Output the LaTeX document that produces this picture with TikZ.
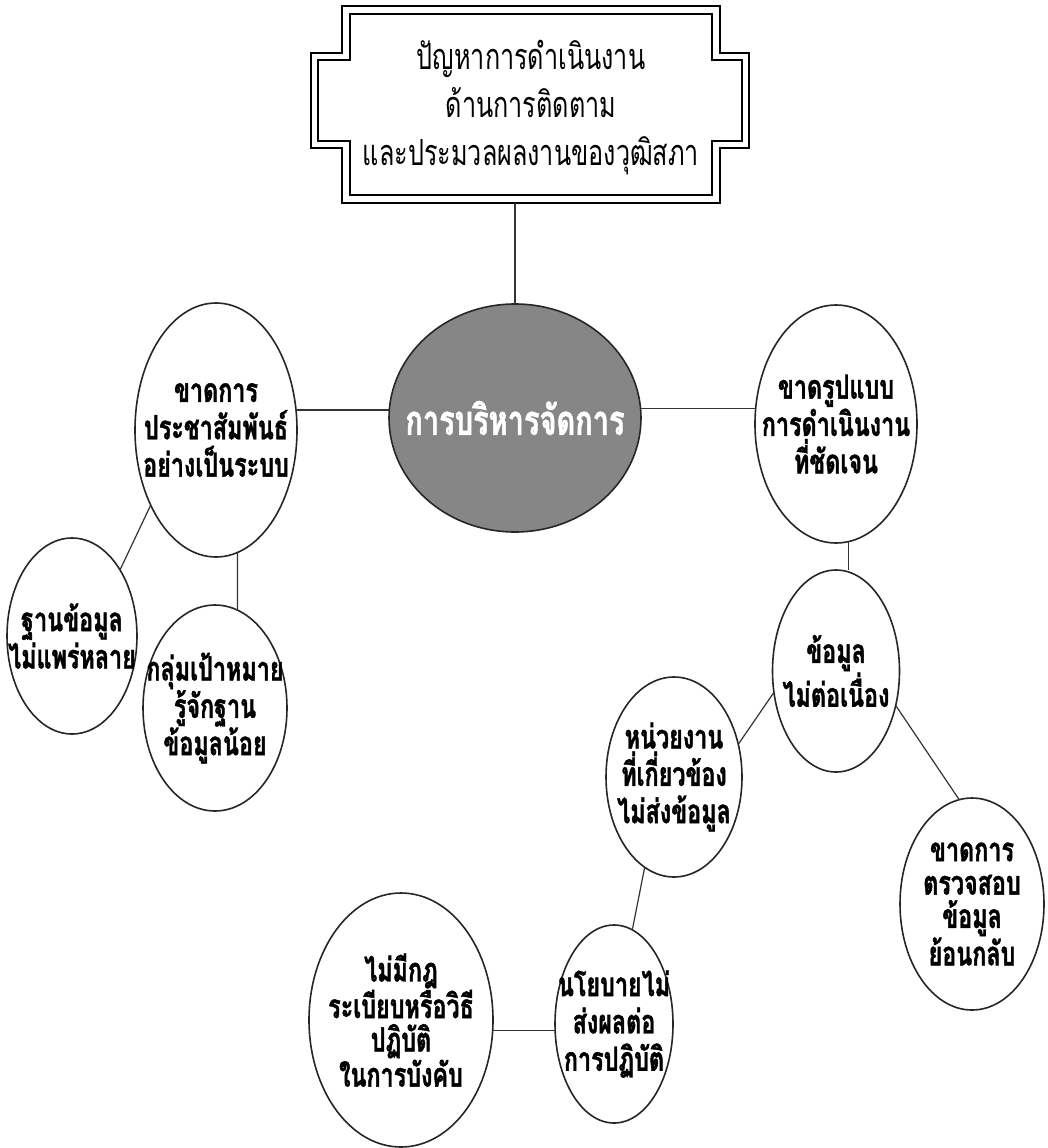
\documentclass[tikz,border=0pt]{standalone}
\usepackage{fontspec}
\usetikzlibrary{shapes.geometric}
\newfontfamily\thaifont[Script=Thai,FakeStretch=0.7,BoldFeatures={FakeBold=1.2}]{Loma}
\definecolor{hubgray}{RGB}{134,134,134}
\tikzset{
  bub/.style n args={2}{ellipse, draw=black!85, line width=1.2pt, fill=white,
    minimum width=#1*0.75pt, minimum height=#2*0.75pt, inner sep=0pt, outer sep=0pt},
  lab/.style={inner sep=0pt, align=center, text=black,
    font=\thaifont\bfseries\fontsize{25}{28}\selectfont},
  lab4/.style={lab, font=\thaifont\bfseries\fontsize{25}{25}\selectfont},
  conn/.style={draw=black!80, line width=0.9pt},
}
\begin{document}
\begin{tikzpicture}[x=0.75pt,y=-0.75pt]
\useasboundingbox (0,0) rectangle (1047,1148);
% title box
\draw[line width=2.2pt] (342,6) -- (720,6) -- (720,53) -- (749,53) -- (749,148) -- (720,148) -- (720,203) -- (342,203) -- (342,148) -- (311,148) -- (311,53) -- (342,53) -- cycle;
\draw[line width=1.2pt] (350,14) -- (712,14) -- (712,60) -- (742,60) -- (742,141) -- (712,141) -- (712,195) -- (350,195) -- (350,141) -- (318,141) -- (318,60) -- (350,60) -- cycle;
\node[minimum width=378*0.75pt, minimum height=190*0.75pt, inner sep=0pt, align=center,
  font=\thaifont\fontsize{27}{36}\selectfont] (title) at (531,108)
  {ปัญหาการดำเนินงาน\\ด้านการติดตาม\\และประมวลผลงานของวุฒิสภา};
% hub
\node[bub={252}{228}, fill=hubgray, label={[lab, text=white, font=\thaifont\bfseries\fontsize{31}{34}\selectfont]center:การบริหารจัดการ}] (cen) at (515,418) {};
% bubbles
\node[bub={162}{254}, label={[lab]center:{ขาดการ\\ประชาสัมพันธ์\\อย่างเป็นระบบ}}] (L) at (216,430) {};
\node[bub={162}{238}, label={[lab]center:{ขาดรูปแบบ\\การดำเนินงาน\\ที่ชัดเจน}}] (R) at (836,424) {};
\node[bub={127}{202}, label={[lab]center:{ข้อมูล\\ไม่ต่อเนื่อง}}] (D) at (836,671) {};
\node[bub={136}{200}, label={[lab]center:{หน่วยงาน\\ที่เกี่ยวข้อง\\ไม่ส่งข้อมูล}}] (H) at (674,777) {};
\node[bub={144}{212}, label={[lab4]center:{ขาดการ\\ตรวจสอบ\\ข้อมูล\\ย้อนกลับ}}] (K) at (972,904) {};
\node[bub={118}{198}, label={[lab]center:{นโยบายไม่\\ส่งผลต่อ\\การปฏิบัติ}}] (N) at (614,1024) {};
\node[bub={184}{254}, label={[lab4]center:{ไม่มีกฎ\\ระเบียบหรือวิธี\\ปฏิบัติ\\ในการบังคับ}}] (M) at (401,1020) {};
\node[bub={130}{196}, label={[lab]center:{ฐานข้อมูล\\ไม่แพร่หลาย}}] (F) at (72,636) {};
\node[bub={144}{206}, label={[lab]center:{กลุ่มเป้าหมาย\\รู้จักฐาน\\ข้อมูลน้อย}}] (G) at (215,708) {};
% connectors
\draw[conn] (cen.north) -- (cen.north |- title.south);
\draw[conn] (L.14) -- (L.14 -| cen.west);
\draw[conn] (R.169) -- (R.169 -| cen.east);
\draw[conn] (R.-84) -- (R.-84 |- D.north);
\draw[conn] (D.199) -- (H.27);
\draw[conn] (D.-30) -- (K.97);
\draw[conn] (H.252) -- (N.79);
\draw[conn] (N.186) -- (N.186 -| M.east);
\draw[conn] (L.229) -- (F.54);
\draw[conn] (L.-80) -- (G.77);
\end{tikzpicture}
\end{document}
